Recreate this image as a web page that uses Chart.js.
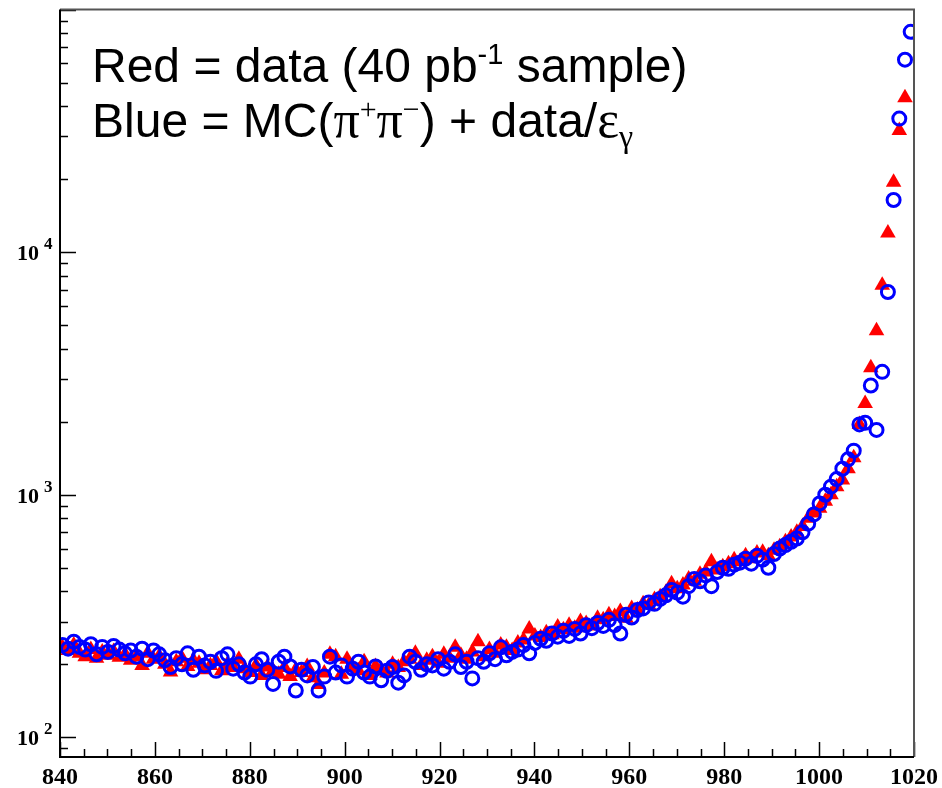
<!DOCTYPE html>
<html>
<head>
<meta charset="utf-8">
<script src="https://cdn.jsdelivr.net/npm/chart.js@4.4.0/dist/chart.umd.min.js"></script>
<style>
    html, body { margin: 0; padding: 0; background: #fff; }
    #plot { display: block; }
</style>
</head>
<body>
<canvas id="plot" width="942" height="788"></canvas>
<script>
// Bin centres (MeV), ~1.2 MeV apart.
const energyBins = [
    840.5, 841.7, 842.9, 844.1, 845.3, 846.5, 847.7, 848.9,
    850.1, 851.3, 852.5, 853.7, 854.9, 856.1, 857.3, 858.5,
    859.7, 860.9, 862.1, 863.3, 864.5, 865.7, 866.9, 868.1,
    869.3, 870.5, 871.7, 872.9, 874.1, 875.3, 876.5, 877.7,
    878.9, 880.1, 881.3, 882.5, 883.7, 884.9, 886.1, 887.3,
    888.5, 889.7, 890.9, 892.1, 893.3, 894.5, 895.7, 896.9,
    898.1, 899.3, 900.5, 901.7, 902.9, 904.1, 905.3, 906.5,
    907.7, 908.9, 910.1, 911.3, 912.5, 913.7, 914.9, 916.1,
    917.3, 918.5, 919.7, 920.9, 922.1, 923.3, 924.5, 925.7,
    926.9, 928.1, 929.3, 930.5, 931.7, 932.9, 934.1, 935.3,
    936.5, 937.7, 938.9, 940.1, 941.3, 942.5, 943.7, 944.9,
    946.1, 947.3, 948.5, 949.7, 950.9, 952.1, 953.3, 954.5,
    955.7, 956.9, 958.1, 959.3, 960.5, 961.7, 962.9, 964.1,
    965.3, 966.5, 967.7, 968.9, 970.1, 971.3, 972.5, 973.7,
    974.9, 976.1, 977.3, 978.5, 979.7, 980.9, 982.1, 983.3,
    984.5, 985.7, 986.9, 988.1, 989.3, 990.5, 991.7, 992.9,
    994.1, 995.3, 996.5, 997.7, 998.9, 1000.1, 1001.3, 1002.5,
    1003.7, 1004.9, 1006.1, 1007.3, 1008.5, 1009.7, 1010.9, 1012.1,
    1013.3, 1014.5, 1015.7, 1016.9, 1018.1, 1019.3
];

// Red triangles: data (40 pb-1)
const dataYield = [
    235, 228, 240, 222, 215, 230, 212, 225,
    218, 226, 214, 220, 208, 215, 198, 222,
    210, 216, 200, 186, 205, 212, 196, 208,
    202, 190, 198, 206, 188, 200, 194, 210,
    192, 185, 198, 180, 195, 188, 182, 194,
    178, 190, 185, 196, 176, 165, 184, 220,
    215, 182, 210, 195, 188, 205, 180, 196,
    190, 184, 200, 194, 205, 210, 222, 198,
    208, 215, 202, 220, 212, 235, 218, 210,
    225, 248, 215, 230, 222, 240, 235, 228,
    245, 252, 280, 262, 258, 270, 265, 285,
    278, 290, 282, 300, 295, 288, 310, 305,
    320, 315, 330, 310, 340, 335, 355, 350,
    370, 380, 395, 430, 410, 425, 450, 440,
    470, 480, 530, 490, 505, 520, 540, 530,
    560, 545, 575, 580, 560, 590, 610, 640,
    670, 700, 740, 800, 840, 880, 940, 1000,
    1080, 1150, 1280, 1420, 1950, 2380, 3340, 4740,
    7310, 11980, 19400, 31700, 43300
];

// Blue circles: MC(pi+pi-) + data/eff
const mcYield = [
    240, 232, 248, 236, 230, 242, 220, 236,
    225, 238, 230, 222, 228, 215, 232, 210,
    228, 220, 208, 195, 212, 200, 222, 190,
    215, 198, 205, 188, 212, 220, 192, 200,
    185, 178, 200, 210, 190, 166, 205, 215,
    196, 156, 190, 180, 195, 156, 178, 215,
    185, 198, 178, 192, 205, 185, 178, 196,
    172, 188, 195, 168, 180, 215, 205, 190,
    200, 198, 210, 192, 205, 220, 195, 205,
    175, 212, 205, 222, 210, 235, 218, 225,
    230, 240, 222, 245, 255, 250, 268, 260,
    275, 262, 280, 268, 290, 282, 296, 288,
    305, 290, 268, 320, 312, 335, 340, 360,
    355, 372, 385, 405, 395, 380, 420, 450,
    440, 465, 420, 480, 500, 495, 515, 525,
    545, 520, 560, 540, 500, 570, 600, 620,
    640, 660, 700, 760, 830, 920, 1000, 1080,
    1160, 1280, 1400, 1520, 1950, 1980, 2820, 1850,
    3210, 6850, 16400, 35500, 62100, 80900
];

const xTickValues = [840, 860, 880, 900, 920, 940, 960, 980, 1000, 1020];
const yDecades    = [100, 1000, 10000];
const yExponents  = ['2', '3', '4'];

const toPoints = ys => ys.map((y, i) => ({ x: energyBins[i], y }));

const SANS  = '"Liberation Sans", Arial, sans-serif';
const SERIF = '"Liberation Serif", "Times New Roman", serif';

// Text in the top-left corner, drawn piece by piece for the sup/sub parts.
const legendLines = [
    { x: 92, y: 82, parts: [
        { t: 'Red = data (40 pb', f: '48px ' + SANS },
        { t: '-1', f: '29px ' + SANS, dy: -18 },
        { t: ' sample)', f: '48px ' + SANS }
    ]},
    { x: 92, y: 137, parts: [
        { t: 'Blue = MC(', f: '48px ' + SANS },
        { t: 'π', f: '52px ' + SERIF },
        { t: '+', f: '30px ' + SERIF, dy: -18 },
        { t: 'π', f: '52px ' + SERIF },
        { t: '−', f: '30px ' + SERIF, dy: -18 },
        { t: ') + data/', f: '48px ' + SANS },
        { t: 'ε', f: '52px ' + SERIF },
        { t: 'γ', f: '32px ' + SERIF, dy: 10 }
    ]}
];

const rootFrame = {
    id: 'rootFrame',
    afterDraw(chart) {
        const { ctx, chartArea: a, scales: { x, y } } = chart;
        ctx.save();

        // inward ticks
        ctx.strokeStyle = '#000';
        ctx.lineWidth = 1.5;
        ctx.beginPath();
        for (let v = x.min; v <= x.max; v += 5) {
            const px = Math.round(x.getPixelForValue(v)) + 0.5;
            const len = v % 20 === 0 ? 15 : 8;
            ctx.moveTo(px, a.bottom);
            ctx.lineTo(px, a.bottom - len);
        }
        for (let d = 10; d <= 100000; d *= 10) {
            for (let m = 1; m < 10; m++) {
                const v = m * d;
                if (v < y.min || v > y.max) continue;
                const py = Math.round(y.getPixelForValue(v)) + 0.5;
                ctx.moveTo(a.left, py);
                ctx.lineTo(a.left + (m === 1 ? 16 : 8), py);
            }
        }
        ctx.stroke();

        // frame
        ctx.lineWidth = 2;
        ctx.strokeStyle = '#555';
        ctx.beginPath();
        ctx.moveTo(a.left, a.top); ctx.lineTo(a.right, a.top); ctx.lineTo(a.right, a.bottom);
        ctx.stroke();
        ctx.strokeStyle = '#000';
        ctx.beginPath();
        ctx.moveTo(a.left, a.top); ctx.lineTo(a.left, a.bottom); ctx.lineTo(a.right, a.bottom);
        ctx.stroke();

        // tick labels
        ctx.fillStyle = '#000';
        ctx.textBaseline = 'alphabetic';
        ctx.font = 'bold 24px ' + SERIF;
        ctx.textAlign = 'center';
        xTickValues.forEach(v => ctx.fillText(String(v), x.getPixelForValue(v), 784));

        yDecades.forEach((v, i) => {
            const py = y.getPixelForValue(v);
            ctx.font = 'bold 22px ' + SERIF;
            ctx.textAlign = 'right';
            ctx.fillText('10', 39, py + 8);
            ctx.font = 'bold 17px ' + SERIF;
            ctx.textAlign = 'left';
            ctx.fillText(yExponents[i], 44, py - 3);
        });

        // corner text
        ctx.textAlign = 'left';
        legendLines.forEach(line => {
            let cx = line.x;
            line.parts.forEach(p => {
                ctx.font = p.f;
                ctx.fillText(p.t, cx, line.y + (p.dy || 0));
                cx += ctx.measureText(p.t).width;
            });
        });

        ctx.restore();
    }
};

new Chart(document.getElementById('plot'), {
    type: 'scatter',
    data: {
        datasets: [
            {
                label: 'data',
                data: toPoints(dataYield),
                pointStyle: 'triangle',
                pointRadius: 9,
                pointHoverRadius: 9,
                backgroundColor: '#ff0000',
                borderColor: '#ff0000',
                borderWidth: 0,
                order: 2,
                clip: 0
            },
            {
                label: 'MC',
                data: toPoints(mcYield),
                pointStyle: 'circle',
                pointRadius: 6.5,
                pointHoverRadius: 6.5,
                backgroundColor: 'rgba(0,0,0,0)',
                borderColor: '#0000ff',
                borderWidth: 3,
                order: 1,
                clip: 0
            }
        ]
    },
    options: {
        responsive: false,
        animation: false,
        devicePixelRatio: 1,
        events: [],
        layout: { padding: { left: 60, right: 28, top: 7, bottom: 31 } },
        plugins: { legend: { display: false }, tooltip: { enabled: false } },
        scales: {
            x: { type: 'linear', min: 840, max: 1020, display: false },
            y: { type: 'logarithmic', min: 83, max: 100000, display: false }
        }
    },
    plugins: [rootFrame]
});
</script>
</body>
</html>
